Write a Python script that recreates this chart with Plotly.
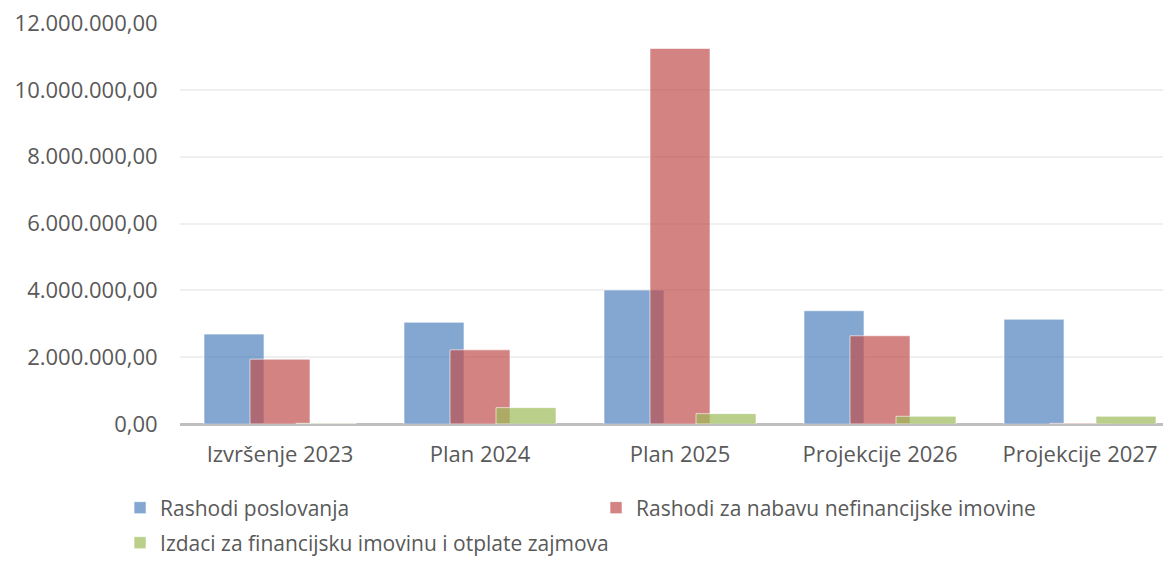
import plotly.graph_objects as go

categories = ["Izvršenje 2023", "Plan 2024", "Plan 2025", "Projekcije 2026", "Projekcije 2027"]
rashodi_poslovanja = [2690000, 3045000, 4010000, 3390000, 3135000]
rashodi_nabava = [1940000, 2220000, 11240000, 2640000, 20000]
izdaci_financijski = [20000, 490000, 310000, 230000, 230000]

series = [
    ("Rashodi poslovanja", rashodi_poslovanja, "rgba(79,129,189,0.7)", -0.38, "legend"),
    ("Rashodi za nabavu nefinancijske imovine", rashodi_nabava, "rgba(192,80,77,0.7)", -0.15, "legend"),
    ("Izdaci za financijsku imovinu i otplate zajmova", izdaci_financijski, "rgba(155,187,89,0.7)", 0.08, "legend2"),
]

font_family = "Open Sans"
text_color = "#595959"

fig = go.Figure()
for name, values, color, offset, leg in series:
    fig.add_trace(go.Bar(
        x=categories, y=values, name=name,
        width=0.3, offset=offset,
        marker=dict(color=color, line=dict(color="rgba(255,255,255,0.6)", width=1)),
        legend=leg,
    ))

# the page body adds 8px on every side, so the figure is a bit smaller than the window
fig.update_layout(
    barmode="overlay",
    separators=",.",
    width=1155, height=551,
    margin=dict(l=172, r=0, t=15, b=135, autoexpand=False),
    plot_bgcolor="white", paper_bgcolor="white",
    font=dict(family=font_family, size=21, color=text_color),
    legend=dict(
        orientation="h", xref="container", yref="container",
        x=0.097, xanchor="left", y=0.0926, yanchor="middle",
        entrywidth=431, entrywidthmode="pixels",
        font=dict(size=21, color=text_color), bgcolor="rgba(0,0,0,0)",
    ),
    legend2=dict(
        orientation="h", xref="container", yref="container",
        x=0.097, xanchor="left", y=0.029, yanchor="middle",
        font=dict(size=21, color=text_color), bgcolor="rgba(0,0,0,0)",
    ),
)

fig.update_xaxes(
    range=[-0.5, 4.415], showgrid=False, showline=False, automargin=False,
    ticks="outside", ticklen=11, tickcolor="rgba(0,0,0,0)",
    tickfont=dict(size=22, color=text_color),
)
fig.update_yaxes(
    range=[0, 12000000], tickvals=[0, 2000000, 4000000, 6000000, 8000000, 10000000, 12000000],
    tickformat=",.2f", showgrid=True, gridcolor="#EFEFEF", gridwidth=1.5, automargin=False,
    zeroline=True, zerolinecolor="#BFBFBF", zerolinewidth=3, ticklabeloverflow="allow",
    ticks="outside", ticklen=17, tickcolor="rgba(0,0,0,0)",
    tickfont=dict(size=22, color=text_color),
)

fig.write_html("out.html")
